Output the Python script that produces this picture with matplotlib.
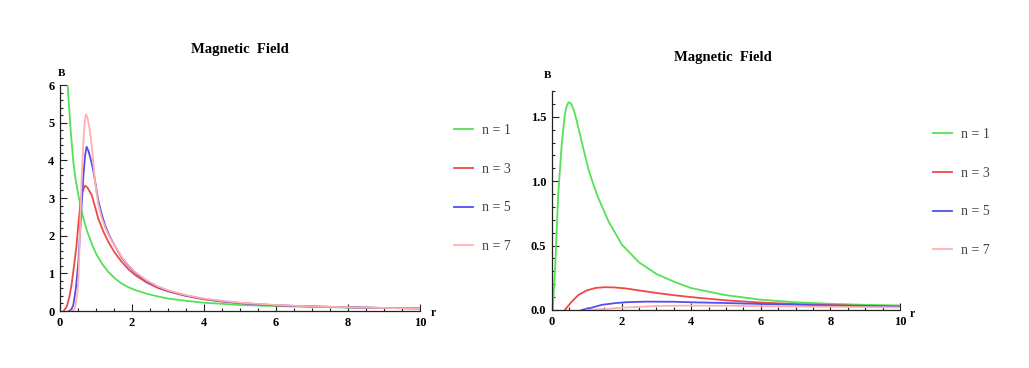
import matplotlib.pyplot as plt
from matplotlib.ticker import MultipleLocator

# ---- left panel data ----
r1_left = [0.2, 0.23, 0.3, 0.37, 0.44, 0.51, 0.58, 0.65, 0.72, 0.79, 0.9, 1.02, 1.17, 1.34, 1.52, 1.71, 1.9,
           2.08, 2.4, 2.7, 3.0, 3.5, 4.0, 4.5, 5.0, 6.0, 7.0, 8.0, 9.0, 10.0]
B1_left = [6.3, 5.73, 4.75, 3.96, 3.45, 3.08, 2.75, 2.46, 2.22, 2.02, 1.74, 1.49, 1.25, 1.04, 0.87, 0.73, 0.63,
           0.56, 0.46, 0.39, 0.33, 0.27, 0.22, 0.19, 0.16, 0.13, 0.11, 0.09, 0.08, 0.07]

r3_left = [0.1, 0.19, 0.26, 0.32, 0.39, 0.46, 0.51, 0.56, 0.62, 0.69, 0.76, 0.88, 0.97, 1.06, 1.2, 1.34, 1.52,
           1.71, 1.9, 2.08, 2.4, 2.7, 3.0, 3.5, 4.0, 4.5, 5.0, 6.0, 7.0, 8.0, 9.0, 10.0]
B3_left = [0.0, 0.12, 0.38, 0.69, 1.2, 1.75, 2.3, 2.8, 3.15, 3.33, 3.28, 3.08, 2.78, 2.46, 2.12, 1.84, 1.55,
           1.31, 1.11, 0.96, 0.76, 0.62, 0.52, 0.4, 0.31, 0.25, 0.21, 0.15, 0.12, 0.1, 0.08, 0.07]

r5_left = [0.25, 0.32, 0.37, 0.44, 0.51, 0.56, 0.6, 0.65, 0.7, 0.74, 0.79, 0.86, 0.93, 1.0, 1.06, 1.15, 1.25,
           1.38, 1.53, 1.71, 1.9, 2.08, 2.4, 2.7, 3.0, 3.5, 4.0, 4.5, 5.0, 6.0, 7.0, 8.0, 9.0, 10.0]
B5_left = [0.0, 0.05, 0.16, 0.6, 1.3, 2.1, 2.8, 3.6, 4.15, 4.36, 4.25, 4.0, 3.7, 3.3, 2.95, 2.6, 2.28,
           1.98, 1.72, 1.42, 1.2, 1.02, 0.8, 0.65, 0.54, 0.41, 0.32, 0.26, 0.21, 0.15, 0.12, 0.1, 0.08, 0.07]

r7_left = [0.32, 0.38, 0.42, 0.47, 0.51, 0.56, 0.6, 0.65, 0.69, 0.72, 0.76, 0.82, 0.88, 0.97, 1.06, 1.15, 1.25,
           1.38, 1.53, 1.71, 1.9, 2.08, 2.4, 2.7, 3.0, 3.5, 4.0, 4.5, 5.0, 6.0, 7.0, 8.0, 9.0, 10.0]
B7_left = [0.0, 0.03, 0.1, 0.4, 0.78, 2.19, 3.5, 4.5, 5.05, 5.22, 5.15, 4.85, 4.4, 3.45, 2.85, 2.5, 2.22,
           1.95, 1.73, 1.44, 1.22, 1.04, 0.82, 0.66, 0.55, 0.42, 0.33, 0.27, 0.22, 0.16, 0.12, 0.1, 0.08, 0.07]

# ---- right panel data ----
r1_right = [0.02, 0.09, 0.18, 0.28, 0.37, 0.42, 0.47, 0.52, 0.57, 0.64, 0.71, 0.85, 1.04, 1.18, 1.33, 1.62,
            2.0, 2.5, 3.0, 3.5, 4.0, 5.0, 6.0, 7.0, 8.0, 9.0, 10.0]
B1_right = [0.0, 0.33, 0.9, 1.29, 1.52, 1.58, 1.61, 1.61, 1.59, 1.54, 1.47, 1.31, 1.1, 0.98, 0.87, 0.69,
            0.51, 0.37, 0.28, 0.22, 0.17, 0.115, 0.08, 0.06, 0.048, 0.04, 0.035]

r3_right = [0.37, 0.55, 0.76, 1.0, 1.25, 1.52, 1.8, 2.1, 2.5, 3.0, 3.5, 4.0, 5.0, 6.0, 7.0, 8.0, 9.0, 10.0]
B3_right = [0.0, 0.06, 0.117, 0.152, 0.171, 0.177, 0.175, 0.168, 0.152, 0.132, 0.115, 0.1, 0.075, 0.058,
            0.046, 0.038, 0.032, 0.027]

r5_right = [0.85, 1.1, 1.43, 1.8, 2.1, 2.7, 3.5, 4.0, 5.0, 6.0, 7.0, 8.0, 9.0, 10.0]
B5_right = [0.0, 0.015, 0.04, 0.053, 0.06, 0.065, 0.064, 0.06, 0.054, 0.047, 0.041, 0.035, 0.03, 0.026]

r7_right = [1.0, 1.5, 2.0, 3.0, 3.8, 5.0, 6.0, 8.0, 10.0]
B7_right = [0.0, 0.008, 0.018, 0.031, 0.034, 0.033, 0.03, 0.025, 0.02]

labels = ["n = 1", "n = 3", "n = 5", "n = 7"]
colors = ["#55e055", "#f04848", "#5050f0", "#ffb0b0"]

W, H = 1029, 368
plt.rcParams["font.family"] = ["Liberation Serif", "DejaVu Serif"]

fig = plt.figure(figsize=(W / 100, H / 100), dpi=100)


def px_axes(x0, y0, x1, y1):
    # pixel box -> figure fraction
    return fig.add_axes([x0 / W, 1 - y1 / H, (x1 - x0) / W, (y1 - y0) / H])


def style(ax, ymax, ymajor, yminor, yfmt):
    ax.set_xlim(0, 10)
    ax.set_ylim(0, ymax)
    for s in ["top", "right"]:
        ax.spines[s].set_visible(False)
    for s in ["left", "bottom"]:
        ax.spines[s].set_linewidth(0.9)
        ax.spines[s].set_color("#222222")
    ax.xaxis.set_major_locator(MultipleLocator(2))
    ax.xaxis.set_minor_locator(MultipleLocator(0.5))
    ax.yaxis.set_major_locator(MultipleLocator(ymajor))
    ax.yaxis.set_minor_locator(MultipleLocator(yminor))
    ax.yaxis.set_major_formatter(yfmt)
    ax.tick_params(which="both", direction="in", color="#222222", width=0.8)
    ax.tick_params(which="major", length=5, labelsize=9, pad=4)
    ax.tick_params(which="minor", length=2.5)
    for lab in ax.get_xticklabels() + ax.get_yticklabels():
        lab.set_fontweight("bold")
    ax.patch.set_alpha(0)


def legend(ax, x, y):
    ax.legend(loc="upper left", bbox_to_anchor=(x / W, 1 - y / H), bbox_transform=fig.transFigure,
              frameon=False, fontsize=10, labelspacing=1.85, handlelength=1.4, handletextpad=0.6,
              borderaxespad=0, borderpad=0, labelcolor="#444444")


# left panel
ax1 = px_axes(60, 85, 420, 311)
for r, b, c, l in zip([r1_left, r3_left, r5_left, r7_left],
                      [B1_left, B3_left, B5_left, B7_left], colors, labels):
    ax1.plot(r, b, color=c, lw=1.3, label=l)
style(ax1, 6, 1, 0.2, lambda v, p: f"{v:.0f}")
fig.text(240 / W, 1 - 50 / H, "Magnetic  Field", ha="center", va="center",
         fontsize=10.5, fontweight="bold")
fig.text(61 / W, 1 - 73 / H, "B", ha="center", va="center", fontsize=8, fontweight="bold")
fig.text(433 / W, 1 - 313 / H, "r", ha="center", va="center", fontsize=8.5, fontweight="bold")
legend(ax1, 454, 124)

# right panel
ax2 = px_axes(552, 91, 900, 310)
for r, b, c, l in zip([r1_right, r3_right, r5_right, r7_right],
                      [B1_right, B3_right, B5_right, B7_right], colors, labels):
    ax2.plot(r, b, color=c, lw=1.3, label=l)
style(ax2, 1.7, 0.5, 0.1, lambda v, p: f"{v:.1f}")
fig.text(723 / W, 1 - 57 / H, "Magnetic  Field", ha="center", va="center",
         fontsize=10.5, fontweight="bold")
fig.text(548 / W, 1 - 76 / H, "B", ha="center", va="center", fontsize=8, fontweight="bold")
fig.text(912 / W, 1 - 314 / H, "r", ha="center", va="center", fontsize=8.5, fontweight="bold")
legend(ax2, 933, 128)

fig.savefig("out.png", dpi=100)
